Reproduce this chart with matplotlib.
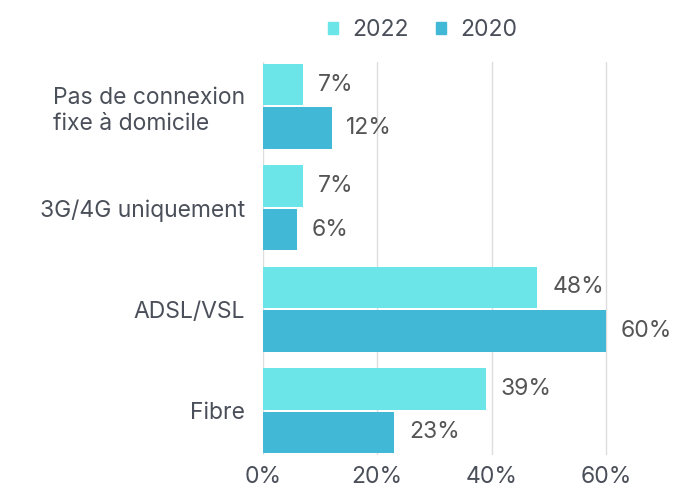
import numpy as np
import matplotlib.pyplot as plt
from matplotlib.patches import Patch

categories = ["Pas de connexion\nfixe à domicile", "3G/4G uniquement", "ADSL/VSL", "Fibre"]
series_names = ["2022", "2020"]
values_2022 = [7, 7, 48, 39]
values_2020 = [12, 6, 60, 23]
tick_vals = [0, 20, 40, 60]

colors = ["#6ce5e8", "#41b8d5"]
text_col = "#4a4f59"
plt.rcParams['font.family'] = ['Inter', 'DejaVu Sans']

fig = plt.figure(figsize=(6.76, 4.91), dpi=100)
ax = fig.add_axes([0.389, 0.073, 0.575, 0.801])

y = np.arange(len(categories))
h = 0.41
off = 0.215
ax.barh(y - off, values_2022, height=h, color=colors[0], zorder=3)
ax.barh(y + off, values_2020, height=h, color=colors[1], zorder=3)

for yy, v in zip(y - off, values_2022):
    ax.text(v + 2.6, yy, f"{v}%", va="center", ha="left", fontsize=16.5, color="#555555")
for yy, v in zip(y + off, values_2020):
    ax.text(v + 2.6, yy, f"{v}%", va="center", ha="left", fontsize=16.5, color="#555555")

ax.set_xlim(0, 68)
ax.set_ylim(3.44, -0.44)
ax.set_xticks(tick_vals)
ax.set_xticklabels([f"{t}%" for t in tick_vals], fontsize=16.5, color=text_col)
ax.set_yticks(y)
ax.set_yticklabels(categories, fontsize=16.5, color=text_col, linespacing=1.25)
ax.tick_params(axis="y", length=0, pad=13)
ax.tick_params(axis="x", length=0, pad=8)
for lbl in ax.get_yticklabels():
    lbl.set_multialignment("left")
ax.grid(axis="x", color="#dddddd", linewidth=1, zorder=0)
for s in ax.spines.values():
    s.set_visible(False)

handles = [Patch(color=c, label=n) for c, n in zip(colors, series_names)]
fig.legend(handles=handles, loc="center", bbox_to_anchor=(0.625, 0.938), ncol=2, frameon=False,
           fontsize=16.5, labelcolor=text_col, handlelength=0.45, handleheight=0.45,
           handletextpad=0.6, columnspacing=1.2)

fig.savefig("out.png", dpi=100)
